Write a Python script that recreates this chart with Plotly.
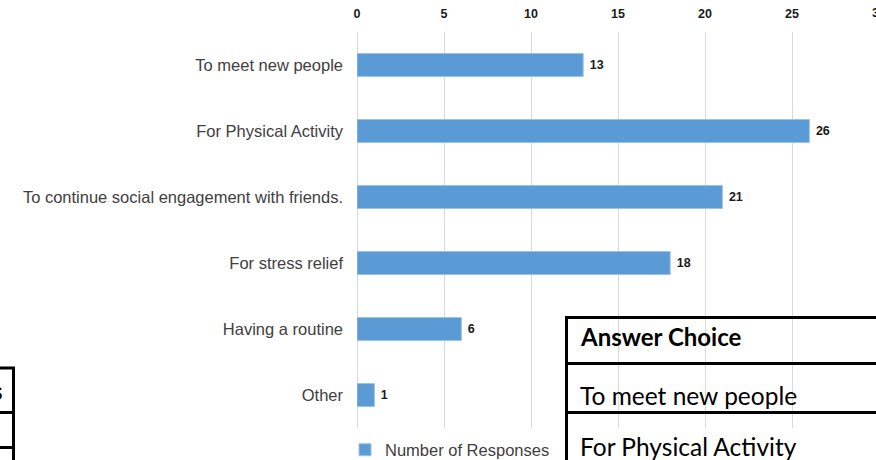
import plotly.graph_objects as go

categories = ["To meet new people", "For Physical Activity",
              "To continue social engagement with friends.",
              "For stress relief", "Having a routine", "Other"]
responses = [13, 26, 21, 18, 6, 1]
series_name = "Number of Responses"
x_ticks = [0, 5, 10, 15, 20, 25, 30]
table_header = "Answer Choice"
table_rows = ["To meet new people", "For Physical Activity"]

W, H = 876, 460
L, R, T, B = 357, 0, 32, 32
PW, PH = W - L - R, H - T - B
UNIT = 17.4  # pixels per response on the x scale

def px(X):
    return (X - L) / PW

def py(Y):
    return (H - B - Y) / PH

fig = go.Figure()
fig.add_trace(go.Bar(
    y=categories, x=responses, orientation="h", name=series_name,
    marker=dict(color="#5B9BD5", line=dict(color="#9DC3E6", width=1)),
    width=0.35,
    text=responses, texttemplate=" %{x}", textposition="outside",
    textfont=dict(family="Liberation Sans", size=12.5, color="#1a1a1a", weight="bold"),
    cliponaxis=False, showlegend=True,
))

xmax = PW / UNIT
fig.update_layout(
    width=W, height=H,
    margin=dict(l=L, r=R, t=T, b=B, autoexpand=False),
    paper_bgcolor="white", plot_bgcolor="white",
    xaxis=dict(side="top", range=[0, xmax], tickvals=x_ticks[:-1],
               showgrid=True, gridcolor="#d9d9d9", gridwidth=1,
               zeroline=True, zerolinecolor="#d9d9d9", zerolinewidth=1,
               showline=False, ticks="", ticklabelstandoff=11,
               tickfont=dict(family="Liberation Sans", size=12.5, color="#1a1a1a", weight="bold")),
    yaxis=dict(autorange="reversed", categoryorder="array", categoryarray=categories,
               showgrid=False, zeroline=False, showline=False, ticks="",
               ticklabelstandoff=13,
               tickfont=dict(family="Liberation Sans", size=16.5, color="#404040")),
    legend=dict(orientation="h", x=px(450), xanchor="center", y=py(450), yanchor="middle",
                font=dict(family="Liberation Sans", size=16.5, color="#404040"),
                bgcolor="rgba(0,0,0,0)"),
)

# cut-off "30" tick label at the right edge (beyond the visible range)
fig.add_annotation(x=px(L + x_ticks[-1] * UNIT - 9), y=1, xref="paper", yref="paper",
                   xanchor="left", yanchor="bottom", text=str(x_ticks[-1]),
                   showarrow=False, yshift=10,
                   font=dict(family="Liberation Sans", size=12.5, color="#1a1a1a", weight="bold"))

# overlapping table fragments
lines = [
    # right table
    (566.5, 316, 566.5, 470),
    (565, 317.5, 890, 317.5),
    (565, 363.5, 890, 363.5),
    (565, 412.5, 890, 412.5),
    # left table fragment
    (13.5, 367, 13.5, 470),
    (-10, 368, 15, 368),
    (-10, 412.5, 15, 412.5),
    (-10, 447.5, 15, 447.5),
]
for x0, y0, x1, y1 in lines:
    fig.add_shape(type="line", xref="paper", yref="paper",
                  x0=px(x0), y0=py(y0), x1=px(x1), y1=py(y1),
                  line=dict(color="black", width=3), layer="above")

fig.add_annotation(x=px(578), y=py(336), xref="paper", yref="paper",
                   xanchor="left", yanchor="middle", showarrow=False,
                   text=table_header,
                   font=dict(family="Lato", size=24, color="black", weight="bold"))
for txt, yc in zip(table_rows, [395, 446]):
    fig.add_annotation(x=px(578), y=py(yc), xref="paper", yref="paper",
                       xanchor="left", yanchor="middle", showarrow=False,
                       text=txt, font=dict(family="Lato", size=24.5, color="black"))
fig.add_annotation(x=px(5), y=py(390), xref="paper", yref="paper",
                   xanchor="right", yanchor="middle", showarrow=False,
                   text="s", font=dict(family="Lato", size=24, color="black", weight="bold"))

fig.write_html("out.html", config={"displayModeBar": False},
               post_script="document.body.style.margin='0';")
